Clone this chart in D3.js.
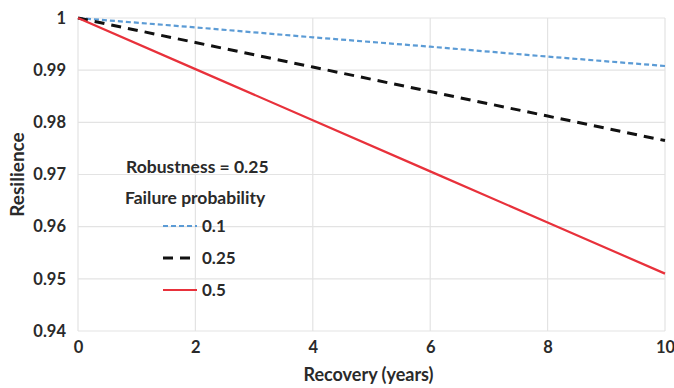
<!DOCTYPE html>
<html>
<head>
<meta charset="utf-8">
<script src="https://cdn.jsdelivr.net/npm/d3@7"></script>
<style>
  html, body { margin: 0; padding: 0; background: #fff; }
  svg { display: block; font-family: Lato, "Open Sans", sans-serif; }
</style>
</head>
<body>
<svg id="chart" width="674" height="388"></svg>
<script>
// Recovery time (years)
const years = [0, 2, 4, 6, 8, 10];
// Resilience for each failure probability (robustness = 0.25)
const resP010 = [1, 0.9982, 0.9963, 0.9945, 0.9926, 0.9908];
const resP025 = [1, 0.9953, 0.9906, 0.9859, 0.9812, 0.9765];
const resP050 = [1, 0.9902, 0.9804, 0.9706, 0.9608, 0.9510];
const seriesNames = ["0.1", "0.25", "0.5"];
const xTicks = [0, 2, 4, 6, 8, 10];
const yTicks = [0.94, 0.95, 0.96, 0.97, 0.98, 0.99, 1];

const svg = d3.select("#chart");
const m = { left: 78, right: 9, top: 18, bottom: 57 };
const W = 674, H = 388;
const ink = "#2a2a2a";

const x = d3.scaleLinear().domain([0, 10]).range([m.left, W - m.right]);
const y = d3.scaleLinear().domain([0.94, 1]).range([H - m.bottom, m.top]);

// gridlines
const grid = svg.append("g");
grid.selectAll("line.h").data(yTicks).join("line")
  .attr("x1", x(0)).attr("x2", x(10))
  .attr("y1", d => y(d)).attr("y2", d => y(d))
  .attr("stroke", "#e3e3e3").attr("stroke-width", 1.2);
grid.selectAll("line.v").data(xTicks).join("line")
  .attr("y1", y(0.94)).attr("y2", y(1))
  .attr("x1", d => x(d)).attr("x2", d => x(d))
  .attr("stroke", "#e3e3e3").attr("stroke-width", 1.2);

// axes
const xAxis = svg.append("g")
  .attr("transform", `translate(0,${y(0.94)})`)
  .call(d3.axisBottom(x).tickValues(xTicks).tickSize(0).tickPadding(10).tickFormat(d3.format("d")));
const yAxis = svg.append("g")
  .attr("transform", `translate(${x(0)},0)`)
  .call(d3.axisLeft(y).tickValues(yTicks).tickSize(0).tickPadding(12)
    .tickFormat(d => d === 1 ? "1" : d3.format(".2f")(d)));
[xAxis, yAxis].forEach(a => {
  a.select(".domain").remove();
  a.selectAll("text").attr("font-size", 16.5).attr("font-weight", "bold")
    .attr("fill", ink).attr("font-family", "Lato, sans-serif");
});

// axis titles
svg.append("text").attr("x", x(5) - 3).attr("y", 381)
  .attr("text-anchor", "middle").attr("font-size", 18).attr("font-weight", "bold")
  .attr("fill", ink).text("Recovery (years)");
svg.append("text").attr("transform", `translate(24,${y(0.97)}) rotate(-90)`)
  .attr("text-anchor", "middle").attr("font-size", 19).attr("font-weight", "bold")
  .attr("fill", ink).text("Resilience");

// series lines
const styles = [
  { vals: resP010, color: "#5b9bd5", width: 2.2, dash: "5,3" },
  { vals: resP025, color: "#111", width: 3, dash: "10,7" },
  { vals: resP050, color: "#e8313b", width: 2.2, dash: null }
];
const line = d3.line().x((d, i) => x(years[i])).y(d => y(d));
styles.forEach(s => {
  svg.append("path").datum(s.vals)
    .attr("d", line).attr("fill", "none")
    .attr("stroke", s.color).attr("stroke-width", s.width)
    .attr("stroke-dasharray", s.dash);
});

// legend
const lg = svg.append("g");
lg.append("text").attr("x", 126).attr("y", 173).attr("font-size", 17.5)
  .attr("font-weight", "bold").attr("fill", ink).text("Robustness = 0.25");
lg.append("text").attr("x", 125).attr("y", 204).attr("font-size", 17.5)
  .attr("font-weight", "bold").attr("fill", ink).text("Failure probability");
styles.forEach((s, i) => {
  const yy = 226 + i * 32;
  lg.append("line").attr("x1", 163).attr("x2", 197).attr("y1", yy).attr("y2", yy)
    .attr("stroke", s.color).attr("stroke-width", s.width)
    .attr("stroke-dasharray", s.dash);
  lg.append("text").attr("x", 202).attr("y", yy + 6).attr("font-size", 17)
    .attr("font-weight", "bold").attr("fill", ink).text(seriesNames[i]);
});
</script>
</body>
</html>
